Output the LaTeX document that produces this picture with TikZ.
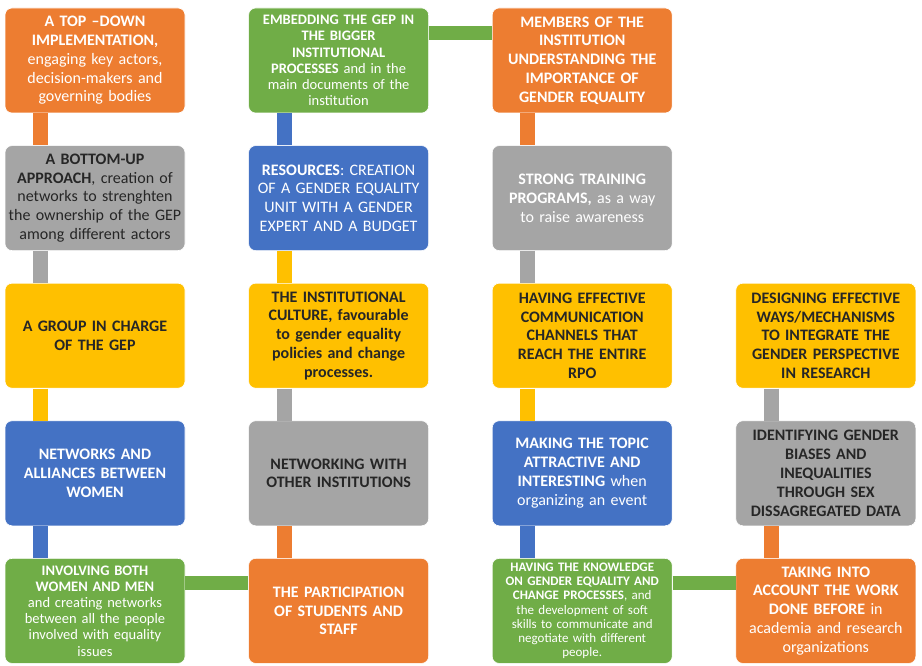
\documentclass[tikz,border=0pt]{standalone}
\usepackage{fontspec}
\setmainfont{Carlito}
\usetikzlibrary{positioning}
\definecolor{orgc}{HTML}{ED7D31}
\definecolor{grnc}{HTML}{70AD47}
\definecolor{gryc}{HTML}{A5A5A5}
\definecolor{bluc}{HTML}{4472C4}
\definecolor{gldc}{HTML}{FFC000}
\definecolor{txtd}{HTML}{262626}
\tikzset{
  blk/.style={rounded corners=7pt, align=center, inner sep=1pt,
              text width=178pt, minimum width=180pt, minimum height=105pt,
              font=\fontsize{16}{18.8}\selectfont, draw=white, line width=0.6pt},
  org/.style={fill=orgc, text=white},
  grn/.style={fill=grnc, text=white},
  gry/.style={fill=gryc, text=txtd},
  blu/.style={fill=bluc, text=white},
  gld/.style={fill=gldc, text=txtd},
  small/.style={font=\fontsize{14.5}{16.2}\selectfont},
  tiny/.style={font=\fontsize{13}{14.2}\selectfont},
  vbar/.style={line width=15pt, draw=#1},
  hbar/.style={line width=14pt, draw=#1},
}
\begin{document}
\begin{tikzpicture}[x=1pt, y=-1pt, node distance=32pt and 63pt]
    \useasboundingbox (0,0) rectangle (922,666);
    % row 1
    \node[blk,org] at (95,60.5) (r1c1) {\textbf{A TOP –DOWN}\\\textbf{IMPLEMENTATION,}\\engaging key actors,\\decision-makers and\\governing bodies};
    \node[blk,grn,small,right=of r1c1] (r1c2) {\textbf{EMBEDDING THE GEP IN}\\\textbf{THE BIGGER}\\\textbf{INSTITUTIONAL}\\\textbf{PROCESSES} and in the\\main documents of the\\institution};
    \node[blk,org,right=of r1c2] (r1c3) {\textbf{MEMBERS OF THE}\\\textbf{INSTITUTION}\\\textbf{UNDERSTANDING THE}\\\textbf{IMPORTANCE OF}\\\textbf{GENDER EQUALITY}};
    % row 2
    \node[blk,gry,below=of r1c1] (r2c1) {\textbf{A BOTTOM-UP}\\\textbf{APPROACH}, creation of\\networks to strenghten\\\mbox{the ownership of the GEP}\\among different actors};
    \node[blk,blu,below=of r1c2] (r2c2) {\textbf{RESOURCES}: CREATION\\OF A GENDER EQUALITY\\UNIT WITH A GENDER\\EXPERT AND A BUDGET};
    \node[blk,gry,text=white,below=of r1c3] (r2c3) {\textbf{STRONG TRAINING}\\\textbf{PROGRAMS,} as a way\\to raise awareness};
    % row 3
    \node[blk,gld,below=of r2c1] (r3c1) {\textbf{A GROUP IN CHARGE}\\\textbf{OF THE GEP}};
    \node[blk,gld,below=of r2c2] (r3c2) {\textbf{THE INSTITUTIONAL}\\\textbf{CULTURE, favourable}\\\textbf{to gender equality}\\\textbf{policies and change}\\\textbf{processes.}};
    \node[blk,gld,below=of r2c3] (r3c3) {\textbf{HAVING EFFECTIVE}\\\textbf{COMMUNICATION}\\\textbf{CHANNELS THAT}\\\textbf{REACH THE ENTIRE}\\\textbf{RPO}};
    \node[blk,gld,right=of r3c3] (r3c4) {\textbf{DESIGNING EFFECTIVE}\\\textbf{WAYS/MECHANISMS}\\\textbf{TO INTEGRATE THE}\\\textbf{GENDER PERSPECTIVE}\\\textbf{IN RESEARCH}};
    % row 4
    \node[blk,blu,below=of r3c1] (r4c1) {\textbf{NETWORKS AND}\\\textbf{ALLIANCES BETWEEN}\\\textbf{WOMEN}};
    \node[blk,gry,below=of r3c2] (r4c2) {\textbf{NETWORKING WITH}\\\textbf{OTHER INSTITUTIONS}};
    \node[blk,blu,below=of r3c3] (r4c3) {\textbf{MAKING THE TOPIC}\\\textbf{ATTRACTIVE AND}\\\textbf{INTERESTING} when\\organizing an event};
    \node[blk,gry,below=of r3c4] (r4c4) {\textbf{IDENTIFYING GENDER}\\\textbf{BIASES AND}\\\textbf{INEQUALITIES}\\\textbf{THROUGH SEX}\\\textbf{DISSAGREGATED DATA}};
    % row 5
    \node[blk,grn,small,below=of r4c1] (r5c1) {\textbf{INVOLVING BOTH}\\\textbf{WOMEN AND MEN}\\and creating networks\\between all the people\\involved with equality\\issues};
    \node[blk,org,below=of r4c2] (r5c2) {\textbf{THE PARTICIPATION}\\\textbf{OF STUDENTS AND}\\\textbf{STAFF}};
    \node[blk,grn,tiny,below=of r4c3] (r5c3) {\textbf{HAVING THE KNOWLEDGE}\\\textbf{ON GENDER EQUALITY AND}\\\textbf{CHANGE PROCESSES}, and\\the development of soft\\skills to communicate and\\negotiate with different\\people.};
    \node[blk,org,below=of r4c4] (r5c4) {\textbf{TAKING INTO}\\\textbf{ACCOUNT THE WORK}\\\textbf{DONE BEFORE} in\\academia and research\\organizations};
    % vertical links
    \draw[vbar=orgc] ([xshift=36pt]r1c1.south west) -- ([xshift=36pt]r2c1.north west);
    \draw[vbar=gryc] ([xshift=36pt]r2c1.south west) -- ([xshift=36pt]r3c1.north west);
    \draw[vbar=gldc] ([xshift=36pt]r3c1.south west) -- ([xshift=36pt]r4c1.north west);
    \draw[vbar=bluc] ([xshift=36pt]r4c1.south west) -- ([xshift=36pt]r5c1.north west);
    \draw[vbar=bluc] ([xshift=36pt]r1c2.south west) -- ([xshift=36pt]r2c2.north west);
    \draw[vbar=gldc] ([xshift=36pt]r2c2.south west) -- ([xshift=36pt]r3c2.north west);
    \draw[vbar=gryc] ([xshift=36pt]r3c2.south west) -- ([xshift=36pt]r4c2.north west);
    \draw[vbar=orgc] ([xshift=36pt]r4c2.south west) -- ([xshift=36pt]r5c2.north west);
    \draw[vbar=orgc] ([xshift=36pt]r1c3.south west) -- ([xshift=36pt]r2c3.north west);
    \draw[vbar=gryc] ([xshift=36pt]r2c3.south west) -- ([xshift=36pt]r3c3.north west);
    \draw[vbar=gldc] ([xshift=36pt]r3c3.south west) -- ([xshift=36pt]r4c3.north west);
    \draw[vbar=bluc] ([xshift=36pt]r4c3.south west) -- ([xshift=36pt]r5c3.north west);
    \draw[vbar=gryc] ([xshift=36pt]r3c4.south west) -- ([xshift=36pt]r4c4.north west);
    \draw[vbar=orgc] ([xshift=36pt]r4c4.south west) -- ([xshift=36pt]r5c4.north west);
    % horizontal links
    \draw[hbar=grnc] ([yshift=-25pt]r1c2.north east) -- ([yshift=-25pt]r1c3.north west);
    \draw[hbar=grnc] ([yshift=-25pt]r5c1.north east) -- ([yshift=-25pt]r5c2.north west);
    \draw[hbar=grnc] ([yshift=-25pt]r5c3.north east) -- ([yshift=-25pt]r5c4.north west);
\end{tikzpicture}
\end{document}
